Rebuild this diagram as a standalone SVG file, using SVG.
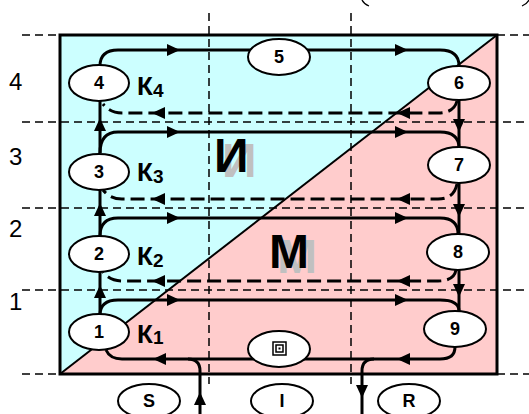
<svg xmlns="http://www.w3.org/2000/svg" xmlns:xlink="http://www.w3.org/1999/xlink" width="529" height="414" viewBox="0 0 529 414">
<style>
.grid{stroke:#000;stroke-width:1.5;stroke-dasharray:8 5;fill:none}
.flow{stroke:#000;stroke-width:3;fill:none}
.ret{stroke:#000;stroke-width:3;fill:none;stroke-dasharray:14 6}
.node{fill:#fff;stroke:#000;stroke-width:2}
.num{font-family:"Liberation Sans",Arial,sans-serif;font-weight:bold;font-size:18px;text-anchor:middle}
.row{font-family:"Liberation Sans",Arial,sans-serif;font-size:24px}
.k{font-family:"Liberation Sans",Arial,sans-serif;font-weight:bold;font-size:26px}
.ks{font-size:19px}
.big{font-family:"Liberation Sans",Arial,sans-serif;font-weight:bold;font-size:48px}
</style>
<defs>
<path id="ah" d="M0,0 L-13,-6 L-13,6 Z" fill="#000"/>
</defs>
<g id="background">
<polygon points="60,35 497,35 60,374" fill="#CCFFFF"/>
<polygon points="497,35 497,374 60,374" fill="#FFCCCC"/>
<line x1="60" y1="374" x2="497" y2="35" stroke="#000" stroke-width="2"/>
<rect x="60" y="35" width="437" height="339" fill="none" stroke="#000" stroke-width="3"/>
<path d="M362,0 Q364,4 369,6 M529,0 Q527,4 522,6" stroke="#000" stroke-width="1.3" fill="none"/>
</g>
<g id="grid">
<path class="grid" d="M22,35 H60 M497,35 H529 M22,374 H60 M497,374 H529 M22,122 H529 M22,208 H529 M22,290 H529 M209,13 V384 M351,13 V384"/>
</g>
<g id="labels-rows">
<text class="row" x="9" y="90">4</text>
<text class="row" x="9" y="165">3</text>
<text class="row" x="9" y="237">2</text>
<text class="row" x="9" y="310">1</text>
</g>
<g id="zones">
<text class="big" x="222" y="177" fill="#C0C0C0">И</text>
<text class="big" x="214" y="172" fill="#000">И</text>
<text class="big" x="277" y="273" fill="#C0C0C0">М</text>
<text class="big" x="269" y="268" fill="#000">М</text>
</g>
<g id="connectors">
<path class="flow" d="M100,66 Q100,50 118,50 L440,50 Q459,50 459,66"/>
<path class="flow" d="M100,153 Q100,132 118,132 L440,132 Q459,132 459,148"/>
<path class="flow" d="M100,236 Q100,218 118,218 L440,218 Q458,218 458,234"/>
<path class="flow" d="M100,315 Q100,300 118,300 L440,300 Q459,300 459,311"/>
<path class="flow" d="M100,153 V101 M100,236 V190 M100,315 V272"/>
<path class="flow" d="M459,100 V147 M459,183 V234 M459,270 V311"/>
<path class="ret" d="M457,101 Q454,113 438,113 L122,113 Q110,113 103,104"/>
<path class="ret" d="M457,184 Q454,199 438,199 L122,199 Q110,199 103,190"/>
<path class="ret" d="M456,270 Q454,281 438,281 L122,281 Q110,281 103,272"/>
<path class="flow" d="M455,347 Q455,359 440,359 L122,359 Q110,359 106,350"/>
<path class="flow" d="M200,414 V371 Q200,359 188,359"/>
<path class="flow" d="M374,359 Q362,359 362,371 V414"/>
<use xlink:href="#ah" transform="translate(180,50)"/>
<use xlink:href="#ah" transform="translate(408,50)"/>
<use xlink:href="#ah" transform="translate(180,132)"/>
<use xlink:href="#ah" transform="translate(408,132)"/>
<use xlink:href="#ah" transform="translate(180,218)"/>
<use xlink:href="#ah" transform="translate(408,218)"/>
<use xlink:href="#ah" transform="translate(180,300)"/>
<use xlink:href="#ah" transform="translate(408,300)"/>
<use xlink:href="#ah" transform="translate(152,113) rotate(180)"/>
<use xlink:href="#ah" transform="translate(397,113) rotate(180)"/>
<use xlink:href="#ah" transform="translate(152,199) rotate(180)"/>
<use xlink:href="#ah" transform="translate(397,199) rotate(180)"/>
<use xlink:href="#ah" transform="translate(152,281) rotate(180)"/>
<use xlink:href="#ah" transform="translate(397,281) rotate(180)"/>
<use xlink:href="#ah" transform="translate(153,359) rotate(180)"/>
<use xlink:href="#ah" transform="translate(397,359) rotate(180)"/>
<use xlink:href="#ah" transform="translate(100,118) rotate(-90)"/>
<use xlink:href="#ah" transform="translate(100,203) rotate(-90)"/>
<use xlink:href="#ah" transform="translate(100,285) rotate(-90)"/>
<use xlink:href="#ah" transform="translate(459,132) rotate(90)"/>
<use xlink:href="#ah" transform="translate(459,217) rotate(90)"/>
<use xlink:href="#ah" transform="translate(459,297) rotate(90)"/>
<use xlink:href="#ah" transform="translate(200,392) rotate(-90)"/>
<use xlink:href="#ah" transform="translate(362,398) rotate(90)"/>
</g>
<g id="n4"><ellipse class="node" cx="99" cy="83" rx="30" ry="18"/><text class="num" x="99" y="89">4</text></g>
<g id="n5"><ellipse class="node" cx="279" cy="57" rx="31" ry="18"/><text class="num" x="279" y="63">5</text></g>
<g id="n6"><ellipse class="node" cx="459" cy="83" rx="31" ry="17"/><text class="num" x="459" y="89">6</text></g>
<g id="n3"><ellipse class="node" cx="99" cy="172" rx="30" ry="18"/><text class="num" x="99" y="178">3</text></g>
<g id="n7"><ellipse class="node" cx="459" cy="165" rx="31" ry="18"/><text class="num" x="459" y="171">7</text></g>
<g id="n2"><ellipse class="node" cx="99" cy="254" rx="30" ry="18"/><text class="num" x="99" y="260">2</text></g>
<g id="n8"><ellipse class="node" cx="458" cy="252" rx="31" ry="18"/><text class="num" x="458" y="258">8</text></g>
<g id="n1"><ellipse class="node" cx="99" cy="332" rx="30" ry="18"/><text class="num" x="99" y="338">1</text></g>
<g id="n9"><ellipse class="node" cx="455" cy="329" rx="31" ry="18"/><text class="num" x="455" y="335">9</text></g>
<g id="nc"><ellipse class="node" cx="279" cy="349" rx="31" ry="18"/>
<rect x="273" y="342" width="13" height="13" fill="#fff" stroke="#000" stroke-width="1.5"/>
<rect x="276" y="345" width="7" height="7" fill="#fff" stroke="#000" stroke-width="1.5"/>
<rect x="278.5" y="347.5" width="2" height="2" fill="#000"/></g>
<g id="nS"><ellipse class="node" cx="149" cy="401" rx="31" ry="17"/><text class="num" x="149" y="407">S</text></g>
<g id="nI"><ellipse class="node" cx="282" cy="401" rx="31" ry="17"/><text class="num" x="282" y="407">I</text></g>
<g id="nR"><ellipse class="node" cx="409" cy="401" rx="31" ry="17"/><text class="num" x="409" y="407">R</text></g>
<g id="klabels">
<text class="k" x="137" y="95">К<tspan class="ks" x="153" y="97">4</tspan></text>
<text class="k" x="137" y="181">К<tspan class="ks" x="153" y="183">3</tspan></text>
<text class="k" x="137" y="265">К<tspan class="ks" x="153" y="267">2</tspan></text>
<text class="k" x="137" y="343">К<tspan class="ks" x="153" y="344">1</tspan></text>
</g>
</svg>
